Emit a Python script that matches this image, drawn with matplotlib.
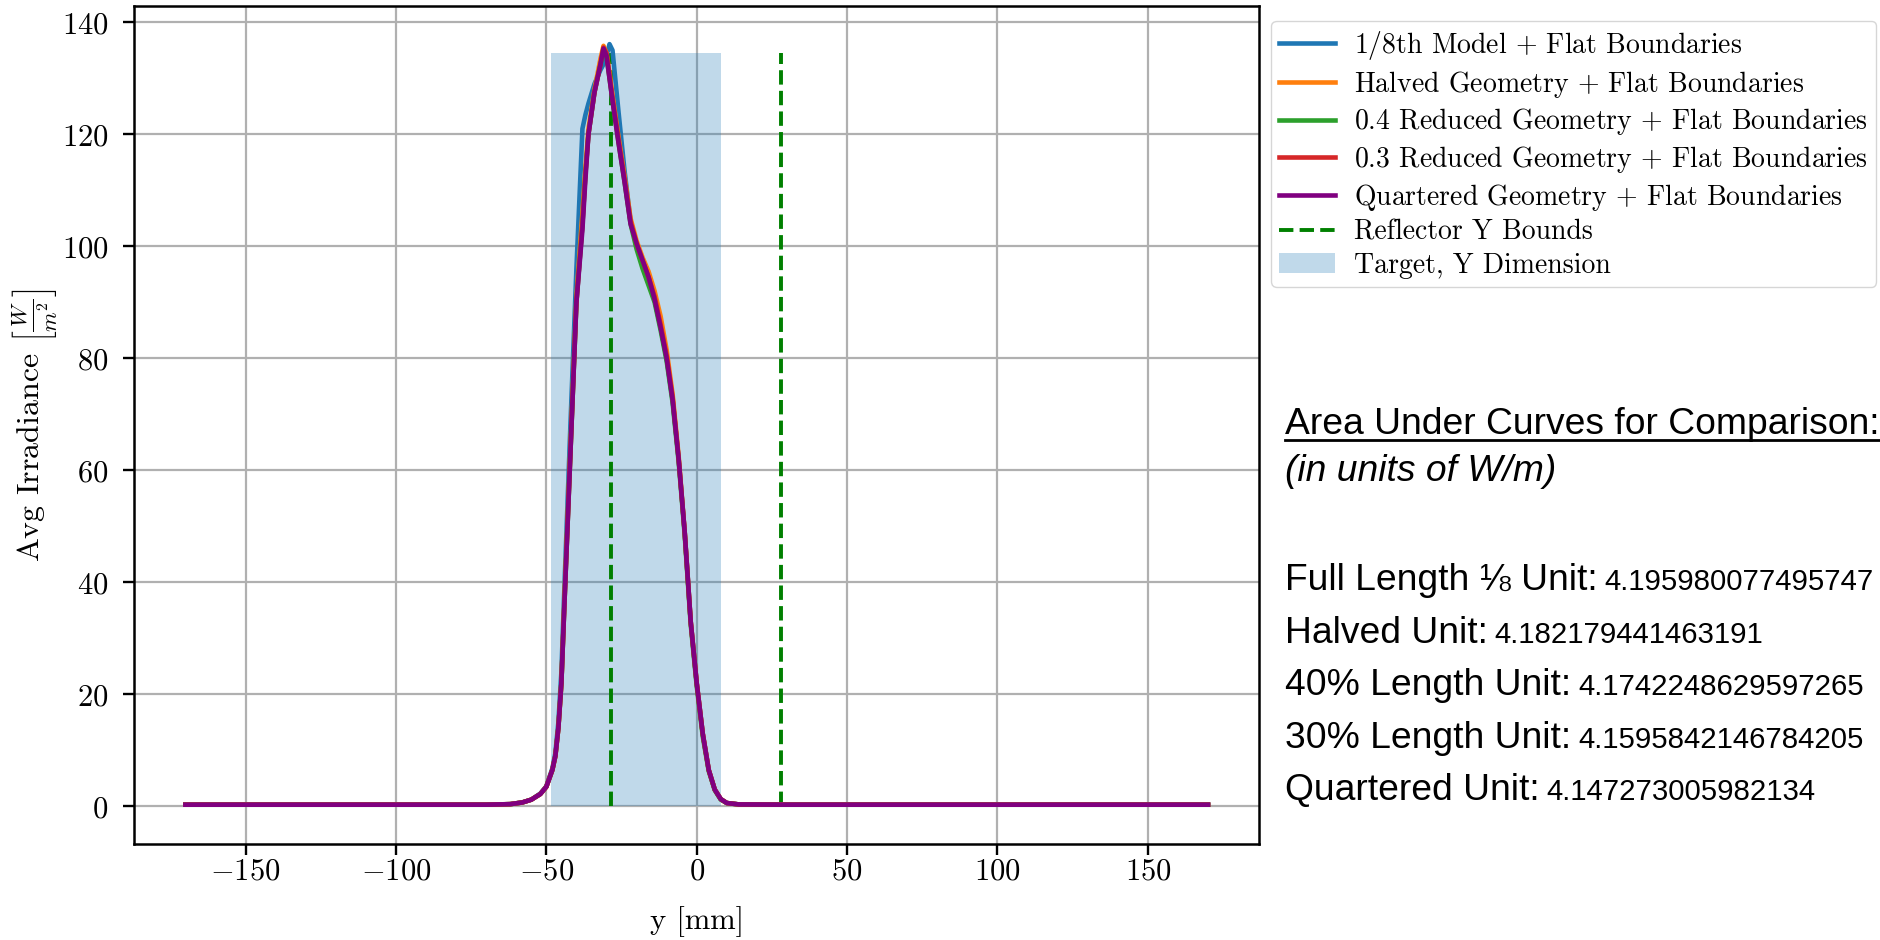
import numpy as np
import matplotlib
matplotlib.use('Agg')
import matplotlib.pyplot as plt
from matplotlib.lines import Line2D

plt.rcParams['font.family'] = 'serif'
plt.rcParams['font.serif'] = ['cmr10']
plt.rcParams['mathtext.fontset'] = 'cm'
plt.rcParams['axes.unicode_minus'] = False
plt.rcParams['axes.formatter.use_mathtext'] = True

# sample positions along y [mm]
y_mm = [-170, -100, -70, -62, -58, -55, -52, -50, -48, -47, -46, -45, -44, -42, -40,
        -38, -37, -36, -34, -32, -31, -30, -29, -28, -26, -24, -22, -20, -18, -16,
        -14, -12, -10, -8, -6, -4, -2, 0, 2, 4, 6, 8, 10, 14, 30, 100, 170]

# avg irradiance [W/m^2] for each model
eighth = [0.3, 0.3, 0.3, 0.4, 0.7, 1.2, 2.3, 3.6, 6.8, 9.5, 15, 24, 39, 68, 96,
          121, 123.5, 125.5, 129, 131.5, 132.5, 134, 136.1, 135, 124, 113.5, 104.5, 100.5, 97.5, 94.5,
          90.5, 85.5, 80, 72.5, 62, 49, 33, 22, 13, 6.5, 3, 1.3, 0.6, 0.35, 0.3, 0.3, 0.3]
halved = [0.3, 0.3, 0.3, 0.4, 0.7, 1.2, 2.2, 3.5, 6.5, 9, 14, 22, 37, 64, 91,
          106, 114, 121, 128, 133.5, 135.8, 134.5, 131, 127, 119.5, 112.5, 105, 101, 98,
          95.5, 92, 87.5, 81.5, 73.5, 62.5, 49, 33, 22, 13, 6.5, 3, 1.3, 0.6, 0.35, 0.3, 0.3, 0.3]
reduced04 = [0.3, 0.3, 0.3, 0.4, 0.7, 1.2, 2.2, 3.5, 6.5, 9, 14, 22, 36, 63, 90,
             104, 113, 120, 127.5, 132.5, 135, 134, 130, 126, 118.5, 111.5, 104, 99.5, 96,
             93, 90, 85, 79.5, 72, 61.5, 48.5, 32.5, 21.5, 12.5, 6.3, 2.9, 1.2, 0.6, 0.35, 0.3, 0.3, 0.3]
reduced03 = [0.3, 0.3, 0.3, 0.4, 0.7, 1.2, 2.2, 3.5, 6.5, 9, 14, 22, 36, 63, 90,
             104, 113, 120, 127.5, 132.5, 135.5, 134.5, 130.5, 126.5, 119, 112, 104.5, 100.5, 97.5,
             94.5, 91, 86, 80.5, 73, 62, 49, 33, 22, 13, 6.5, 3, 1.3, 0.6, 0.35, 0.3, 0.3, 0.3]
quartered = [0.3, 0.3, 0.3, 0.4, 0.7, 1.2, 2.2, 3.5, 6.5, 9, 14, 22, 36, 63, 90,
             103, 112, 120, 127.5, 132.5, 135.3, 134, 130, 126, 118.5, 111.5, 104, 100.5, 97.5,
             94.5, 90.5, 85.5, 80, 72.5, 62, 49, 33, 22, 13, 6.5, 3, 1.3, 0.6, 0.35, 0.3, 0.3, 0.3]

labels = ['1/8th Model $+$ Flat Boundaries',
          'Halved Geometry $+$ Flat Boundaries',
          '0.4 Reduced Geometry $+$ Flat Boundaries',
          '0.3 Reduced Geometry $+$ Flat Boundaries',
          'Quartered Geometry $+$ Flat Boundaries']
colors = ['tab:blue', 'tab:orange', 'tab:green', 'tab:red', 'purple']

reflector_bounds = [-28.6, 27.9]
target_bounds = [-48.3, 8.2]
bound_top = 134.6

auc_names = ['Full Length \u215b Unit:', 'Halved Unit:', '40% Length Unit:',
             '30% Length Unit:', 'Quartered Unit:']
auc_values = ['4.195980077495747', '4.182179441463191', '4.1742248629597265',
              '4.1595842146784205', '4.147273005982134']

fig = plt.figure(figsize=(18.81, 9.40), dpi=100)
ax = fig.add_axes([0.0714, 0.1016, 0.598, 0.892])

for ys, lab, c in zip([eighth, halved, reduced04, reduced03, quartered], labels, colors):
    ax.plot(y_mm, ys, color=c, lw=3.3, label=lab, zorder=3)

ax.vlines(reflector_bounds, 0, bound_top, colors='green', linestyles='--', lw=2.8,
          label='Reflector Y Bounds', zorder=2)
ax.fill_between(target_bounds, 0, bound_top, color='tab:blue', alpha=0.28, lw=0,
                label='Target, Y Dimension', zorder=1)

ax.grid(True, color='#b0b0b0', lw=1.6)
ax.set_axisbelow(True)
ax.set_xticks([-150, -100, -50, 0, 50, 100, 150])
ax.set_yticks(np.arange(0, 141, 20))
ax.tick_params(labelsize=22, length=8, width=1.7)
ax.tick_params(axis='x', pad=1.5)
ax.tick_params(axis='y', pad=10.5)
for s in ax.spines.values():
    s.set_linewidth(1.8)
ax.set_xlabel('y [mm]', fontsize=22, labelpad=15)
ax.set_ylabel(r'Avg Irradiance $\left[\frac{W}{m^2}\right]$', fontsize=23, labelpad=2)

fig.legend(loc='upper left', bbox_to_anchor=(1271 / 1881, 1 - 20.7 / 940),
           bbox_transform=fig.transFigure, borderaxespad=0, fontsize=20,
           handlelength=2.0, handletextpad=0.7, labelspacing=0.24, borderpad=0.3)

# area-under-curve notes on the right
sans = ['Liberation Sans', 'DejaVu Sans']
x0 = 1285 / 1881
renderer = fig.canvas.get_renderer()
title = fig.text(x0, 1 - 434 / 940, 'Area Under Curves for Comparison:', family=sans,
                 fontsize=26.8, va='baseline')
bb = title.get_window_extent(renderer)
fig.add_artist(Line2D([bb.x0 / 1881, bb.x1 / 1881], [1 - 440 / 940] * 2,
                      transform=fig.transFigure, color='black', lw=2))
fig.text(x0, 1 - 481 / 940, '(in units of W/m)', family=sans, style='italic',
         fontsize=26.8, va='baseline')

for i, (name, val) in enumerate(zip(auc_names, auc_values)):
    yb = 1 - (590 + 52.6 * i) / 940
    t = fig.text(x0, yb, name, family=sans, fontsize=26.8, va='baseline')
    bb = t.get_window_extent(renderer)
    fig.text(bb.x1 / 1881 + 7 / 1881, yb, val, family=sans, fontsize=21.2, va='baseline')

fig.savefig('out.png', dpi=100)
